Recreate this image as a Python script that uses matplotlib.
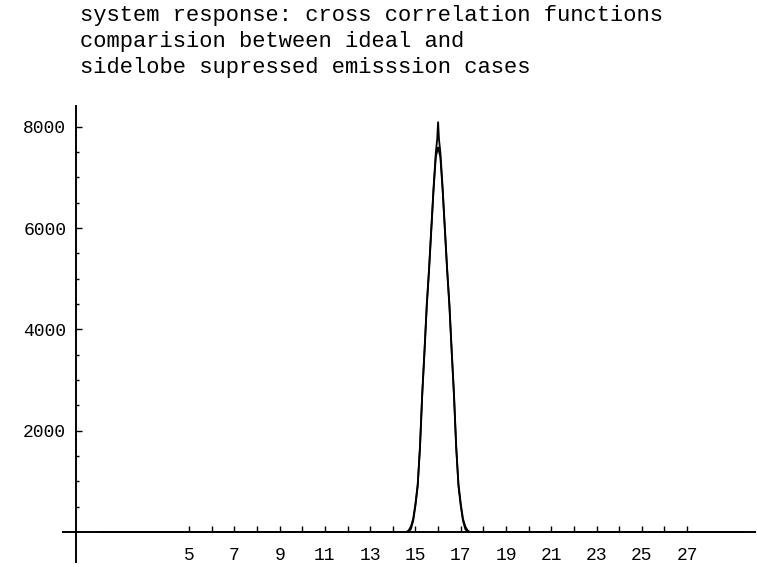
import matplotlib
matplotlib.use("Agg")
import matplotlib.pyplot as plt
from matplotlib.ticker import FixedLocator

# ---- data ----
x_ideal = [1.0, 14.6, 14.7, 14.8, 14.9, 15.0, 15.1, 15.2, 15.3, 15.4, 15.5, 15.6,
           15.7, 15.8, 15.9, 15.96, 16.0, 16.04, 16.1, 16.2, 16.3, 16.4, 16.5,
           16.6, 16.7, 16.8, 16.9, 17.0, 17.1, 17.2, 17.3, 17.4, 29.5]
y_ideal = [0, 0, 0, 60, 220, 520, 900, 1700, 2750, 3600, 4500, 5200,
           6000, 6800, 7500, 7750, 8100, 7750, 7500, 6800, 6000, 5200, 4500,
           3600, 2750, 1700, 900, 520, 220, 60, 0, 0, 0]

x_supp = [1.0, 14.6, 14.7, 14.8, 14.9, 15.0, 15.1, 15.2, 15.3, 15.4, 15.5, 15.6,
          15.7, 15.8, 15.9, 16.0, 16.1, 16.2, 16.3, 16.4, 16.5, 16.6, 16.7,
          16.8, 16.9, 17.0, 17.1, 17.2, 17.3, 17.4, 29.5]
y_supp = [0, 0, 30, 110, 260, 560, 950, 1650, 2700, 3550, 4450, 5150,
          5950, 6750, 7400, 7600, 7400, 6750, 5950, 5150, 4450, 3550, 2700,
          1650, 950, 560, 260, 110, 30, 0, 0]

x_ticks = list(range(5, 28))
x_tick_labels = [str(v) if v % 2 == 1 else "" for v in x_ticks]
y_ticks = [2000, 4000, 6000, 8000]
y_tick_labels = ["2000", "4000", "6000", "8000"]
y_minor = [500, 1000, 1500, 2500, 3000, 3500, 4500, 5000, 5500, 6500, 7000, 7500]

title_lines = ["system response: cross correlation functions",
               "comparision between ideal and",
               "sidelobe supressed emisssion cases"]

# ---- figure ----
W, H = 757, 567
fig = plt.figure(figsize=(W / 100, H / 100), dpi=100)
ax = fig.add_axes([63 / W, 5 / H, (755 - 63) / W, (562 - 106) / H])
ax.set_xlim(-0.57, 30.0)
ax.set_ylim(-593, 8409)

mono = "Liberation Mono"

ax.plot(x_ideal, y_ideal, color="black", lw=1.3, solid_joinstyle="miter")
ax.plot(x_supp, y_supp, color="black", lw=1.3, solid_joinstyle="miter")

for s in ["top", "right"]:
    ax.spines[s].set_visible(False)
ax.spines["left"].set_position(("data", 0))
ax.spines["bottom"].set_position(("data", 0))
for s in ["left", "bottom"]:
    ax.spines[s].set_linewidth(1.4)
    ax.spines[s].set_color("black")

ax.xaxis.set_major_locator(FixedLocator(x_ticks))
ax.set_xticklabels(x_tick_labels, fontfamily=mono, fontsize=13)
ax.yaxis.set_major_locator(FixedLocator(y_ticks))
ax.set_yticklabels(y_tick_labels, fontfamily=mono, fontsize=13)
ax.yaxis.set_minor_locator(FixedLocator(y_minor))

ax.tick_params(axis="x", which="major", direction="in", length=4, width=1.0, pad=11)
ax.tick_params(axis="y", which="major", direction="in", length=4, width=1.0, pad=7)
ax.tick_params(axis="y", which="minor", direction="in", length=2.5, width=1.0)

ys = [15, 42, 68]
for line, yy in zip(title_lines, ys):
    fig.text(80 / W, 1 - yy / H, line, fontfamily=mono, fontsize=15.9,
             ha="left", va="center")

fig.savefig("out.png", dpi=100)
